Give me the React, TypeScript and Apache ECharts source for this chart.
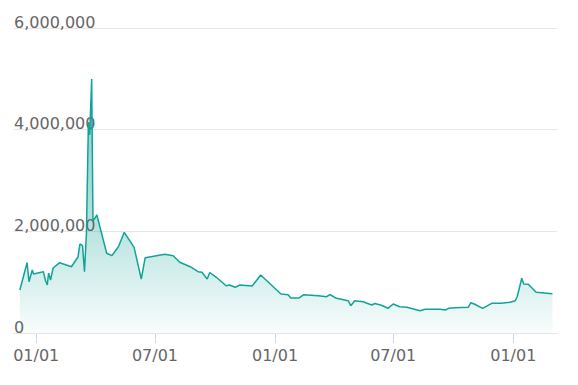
import React, { useEffect, useRef } from "react";
import * as echarts from "echarts";

// Axis extent (daily category axis)
const axisStart = "2019-11-28";
const axisEnd = "2022-03-09";

// Series data
const dates = [
  "2019-12-07", "2019-12-18", "2019-12-21", "2019-12-26", "2019-12-28",
  "2020-01-12", "2020-01-15", "2020-01-18", "2020-01-20", "2020-01-23",
  "2020-01-27", "2020-02-06", "2020-02-24", "2020-03-05", "2020-03-08",
  "2020-03-12", "2020-03-15", "2020-03-18", "2020-03-21", "2020-03-23",
  "2020-03-26", "2020-03-28", "2020-04-03", "2020-04-18", "2020-04-26",
  "2020-05-06", "2020-05-15", "2020-05-30", "2020-06-10", "2020-06-16",
  "2020-07-16", "2020-07-29", "2020-08-08", "2020-08-24", "2020-09-05",
  "2020-09-11", "2020-09-19", "2020-09-23", "2020-10-03", "2020-10-18",
  "2020-10-23", "2020-11-01", "2020-11-08", "2020-11-27", "2020-12-10",
  "2021-01-10", "2021-01-21", "2021-01-25", "2021-02-07", "2021-02-14",
  "2021-03-08", "2021-03-21", "2021-03-26", "2021-04-05", "2021-04-23",
  "2021-04-27", "2021-05-03", "2021-05-16", "2021-05-29", "2021-06-03",
  "2021-06-13", "2021-06-23", "2021-07-01", "2021-07-11", "2021-07-22",
  "2021-08-11", "2021-08-19", "2021-09-11", "2021-09-19", "2021-09-24",
  "2021-10-04", "2021-10-24", "2021-10-28", "2021-11-03", "2021-11-15",
  "2021-11-29", "2021-12-14", "2021-12-27", "2022-01-04", "2022-01-07",
  "2022-01-14", "2022-01-17", "2022-01-24", "2022-02-05", "2022-03-02",
];
const values = [
  846000, 1383000, 1009000, 1239000, 1161000,
  1206000, 1043000, 944000, 1180000, 1043000,
  1279000, 1383000, 1304000, 1495000, 1751000,
  1717000, 1206000, 1967000, 4150000, 3900000,
  4997000, 2200000, 2321000, 1568000, 1521000,
  1698000, 1981000, 1686000, 1062000, 1481000,
  1548000, 1521000, 1391000, 1304000, 1206000,
  1194000, 1062000, 1190000, 1096000, 930000,
  944000, 899000, 944000, 925000, 1141000,
  767000, 753000, 689000, 689000, 753000,
  734000, 714000, 757000, 683000, 635000,
  537000, 635000, 616000, 551000, 580000,
  545000, 486000, 570000, 517000, 506000,
  439000, 466000, 466000, 452000, 486000,
  498000, 506000, 596000, 565000, 486000,
  584000, 584000, 604000, 635000, 714000,
  1076000, 964000, 958000, 801000, 773000,
];

// Y axis ticks
const yMin = 0;
const yMax = 6000000;
const yInterval = 2000000;

// X label dates (month-day) shown on the axis
const xTickMonthDays = ["01-01", "07-01"];

function buildDays(start: string, end: string): string[] {
  const out: string[] = [];
  const s = new Date(start + "T00:00:00Z").getTime();
  const e = new Date(end + "T00:00:00Z").getTime();
  for (let t = s; t <= e; t += 86400000) {
    out.push(new Date(t).toISOString().slice(0, 10));
  }
  return out;
}

function fmtNum(v: number): string {
  return String(Math.round(v)).replace(/\B(?=(\d{3})+(?!\d))/g, ",");
}

export default function App() {
  const ref = useRef<HTMLDivElement>(null);
  useEffect(() => {
    if (!ref.current) return;
    const chart = echarts.init(ref.current, undefined, { renderer: "svg" });
    const days = buildDays(axisStart, axisEnd);
    const isTick = (_i: number, v: string) =>
      xTickMonthDays.indexOf(v.slice(5)) >= 0;
    const font = "'DejaVu Sans', Verdana, sans-serif";
    chart.setOption({
      animation: false,
      grid: {
        left: 14,
        right: 21,
        top: 28,
        bottom: 52,
        containLabel: false,
        outerBoundsMode: "none",
      },
      xAxis: {
        type: "category",
        data: days,
        boundaryGap: false,
        axisLine: { show: true, lineStyle: { color: "#ccd6eb", width: 1 } },
        axisTick: {
          show: true,
          interval: isTick,
          length: 10,
          lineStyle: { color: "#ccd6eb" },
        },
        axisLabel: {
          interval: isTick,
          formatter: (v: string) => v.slice(5).replace("-", "/"),
          color: "#666",
          fontFamily: font,
          fontSize: 16,
          margin: 14,
        },
        splitLine: { show: false },
      },
      yAxis: {
        type: "value",
        min: yMin,
        max: yMax,
        interval: yInterval,
        axisLine: { show: false },
        axisTick: { show: false },
        axisLabel: {
          inside: true,
          margin: 0,
          verticalAlign: "bottom",
          lineHeight: 12,
          color: "#666",
          fontFamily: font,
          fontSize: 16,
          formatter: (v: number) => fmtNum(v),
        },
        splitLine: { show: true, lineStyle: { color: "#e6e6e6", width: 1 } },
        z: 3,
      },
      series: [
        {
          type: "line",
          data: dates.map((d, i) => [d, values[i]]),
          showSymbol: false,
          symbol: "none",
          lineStyle: { color: "#12a398", width: 1.5 },
          itemStyle: { color: "#12a398" },
          areaStyle: {
            color: new echarts.graphic.LinearGradient(0, 0, 0, 1, [
              { offset: 0, color: "rgba(18,163,152,0.7)" },
              { offset: 0.5, color: "rgba(18,163,152,0.5)" },
              { offset: 1, color: "rgba(18,163,152,0.04)" },
            ]),
          },
        },
      ],
    });
    return () => chart.dispose();
  }, []);
  return (
    <div
      ref={ref}
      style={{ position: "absolute", left: 0, top: 0, width: 578, height: 385 }}
    />
  );
}
